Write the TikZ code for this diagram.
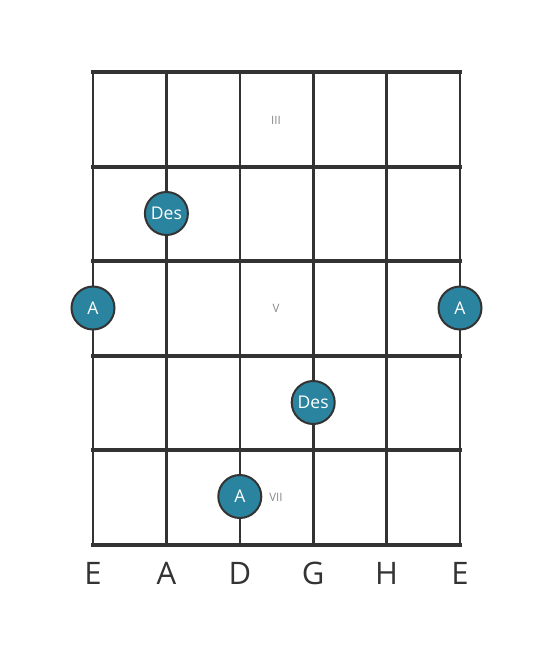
\documentclass[tikz,border=0pt]{standalone}
\usepackage{fontspec}
\setmainfont{Open Sans}
\definecolor{dotfill}{HTML}{2A849F}
\definecolor{gridc}{HTML}{333333}
\definecolor{romc}{HTML}{888888}
\begin{document}
\begin{tikzpicture}[x=1pt,y=-1pt,
  fret/.style={draw=gridc,line width=4pt},
  strng/.style={draw=gridc,line width=2.6pt},
  notedot/.style={circle,fill=dotfill,draw=gridc,line width=2pt,minimum size=43pt,inner sep=0pt,text=white,font=\fontsize{17.5}{17.5}\selectfont},
  roman/.style={text=romc,font=\fontsize{11.5}{11.5}\selectfont},
  strname/.style={text=gridc,font=\fontsize{31}{31}\selectfont,anchor=base}]
\useasboundingbox (0,0) rectangle (553,656);
% strings
\foreach \i/\x in {1/93,2/166.4,3/239.8,4/313.2,5/386.6,6/460}{
  \coordinate (st\i) at (\x,72);
  \coordinate (sb\i) at (\x,544.5);
  \draw[strng] (st\i) -- (sb\i);
}
% frets
\foreach \j/\y in {0/72,1/166.5,2/261,3/355.5,4/450,5/544.5}{
  \coordinate (fl\j) at (91,\y);
  \coordinate (fr\j) at (462,\y);
  \draw[fret] (fl\j) -- (fr\j);
}
% roman numerals
\node[roman] (r3) at (276,120) {III};
\node[roman] (r5) at (276,308.5) {V};
\node[roman] (r7) at (276,497) {VII};
% notes
\node[notedot] (n1) at (166.4,213.5) {Des};
\node[notedot] (n2) at (93,308) {A};
\node[notedot] (n3) at (460,308) {A};
\node[notedot] (n4) at (313.2,402.5) {Des};
\node[notedot] (n5) at (239.8,496.5) {A};
% string names
\node[strname] (e1) at (93,584) {E};
\node[strname] (a1) at (166.4,584) {A};
\node[strname] (d1) at (239.8,584) {D};
\node[strname] (g1) at (313.2,584) {G};
\node[strname] (h1) at (386.6,584) {H};
\node[strname] (e2) at (460,584) {E};
\end{tikzpicture}
\end{document}
